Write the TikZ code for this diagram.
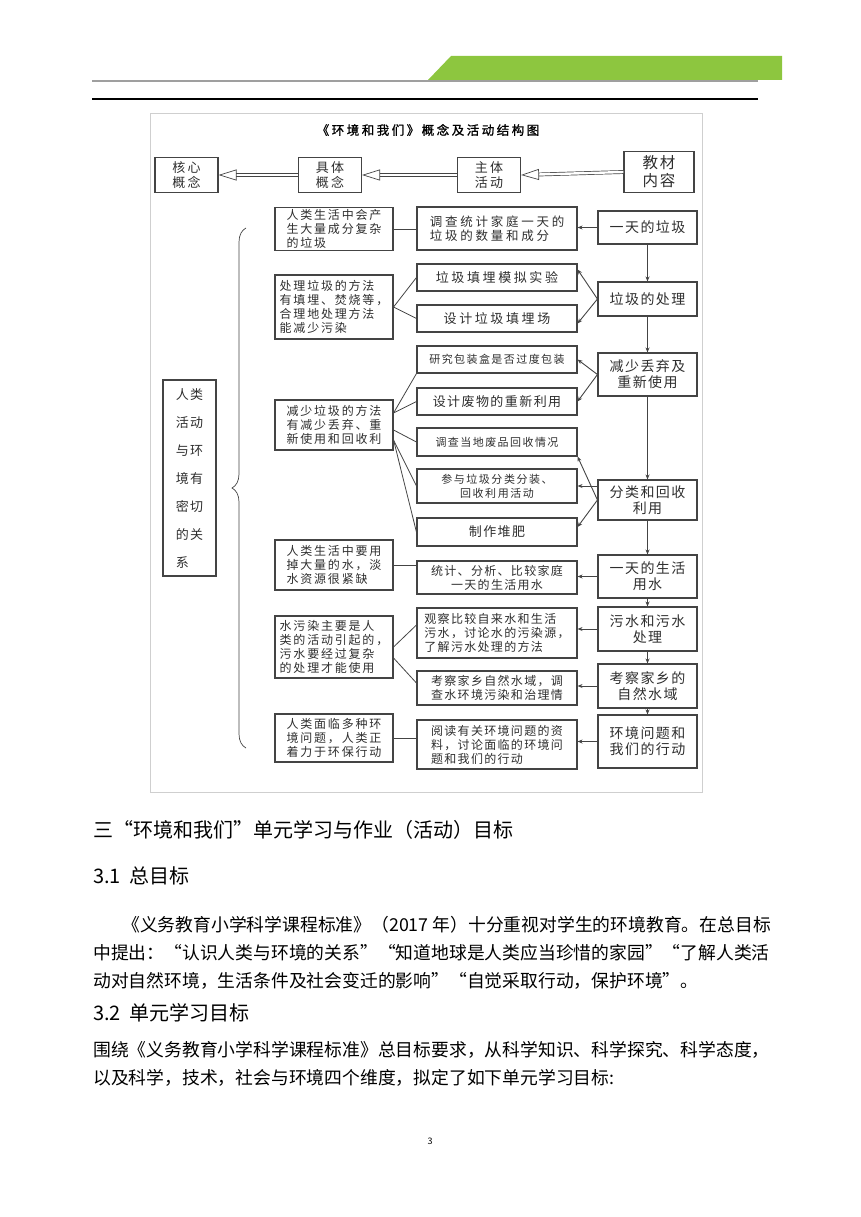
\documentclass[tikz,border=0pt]{standalone}
\usepackage{fontspec}
\setmainfont{Noto Sans CJK SC}
\newfontfamily\titelfont[FakeBold=1.2]{Noto Sans CJK SC}
\usetikzlibrary{arrows.meta,decorations.pathreplacing,calc}
\definecolor{gruen}{HTML}{8DC63F}
\definecolor{rahmen}{HTML}{CFCFCF}
\definecolor{strichgrau}{HTML}{444444}
\definecolor{schrift}{HTML}{2E2E2E}
\newcommand\zhset[3]{\fontsize{#1}{#2}\selectfont\addfontfeatures{LetterSpace=#3}}
\tikzset{
    %Define standard arrow tip
    >={Stealth[length=5pt,width=4pt]},
    %Define style for boxes
    kopf/.style={
           rectangle,
           draw=strichgrau, line width=1.1pt,
           minimum width=63pt,
           minimum height=35pt,
           inner sep=1pt,
           align=center,
           text=schrift,
           font=\zhset{13}{15}{18}},
    begrep/.style={
           rectangle,
           draw=strichgrau, line width=1.1pt,
           minimum width=118pt,
           inner sep=2pt,
           align=left,
           text=schrift,
           font=\zhset{12}{14}{15}},
    aktiv/.style={
           rectangle,
           draw=strichgrau, line width=1.1pt,
           minimum width=160pt,
           inner sep=2pt,
           align=left,
           text=schrift,
           font=\zhset{12}{14}{11}},
    innhold/.style={
           rectangle,
           draw=strichgrau, line width=1.1pt,
           minimum width=99pt,
           inner sep=2pt,
           align=center,
           text=schrift,
           font=\zhset{14}{16}{10}},
    % Define line styles
    strek/.style={draw=strichgrau, line width=0.8pt},
    pil/.style={->, draw=strichgrau, line width=0.9pt},
    dobbelpil/.style={
           draw=strichgrau,
           line width=0.7pt,
           double=white,
           double distance=2.4pt,
           -{Triangle[open,length=18pt,width=11pt]}},
    brodtekst/.style={anchor=west, inner sep=0pt, text=black, font=\zhset{17.8}{22}{0}},
    overskrift/.style={anchor=west, inner sep=0pt, text=black, font=\zhset{20}{24}{0}}
}
\begin{document}
\begin{tikzpicture}[x=1pt, y=-1pt]
\useasboundingbox (0,0) rectangle (860,1217);
% page header
\fill[gruen] (428,80) -- (451,56) -- (782,56) -- (782,80) -- cycle;
\draw[gray!75, line width=1.3pt] (92,81) -- (758,81);
\draw[black, line width=1.1pt] (92,99) -- (758,99);
% frame of the figure
\draw[rahmen, line width=1pt] (150,114) rectangle (702,792);
\node[text=black, font={\titelfont\fontsize{12.5}{14}\selectfont\addfontfeatures{LetterSpace=20}}] (titel) at (428,130) {《环境和我们》概念及活动结构图};
% header row
\node[kopf] (kern) at (186.5,175) {核心\\概念};
\node[kopf] (konkret) at (330,175) {具体\\概念};
\node[kopf] (haupt) at (489,175) {主体\\活动};
\node[kopf, minimum width=70pt, minimum height=41pt, font=\zhset{15.5}{18}{12}] (stoff) at (659,172) {教材\\内容};
\draw[dobbelpil] (stoff.west) -- (haupt.east);
\draw[dobbelpil] (haupt.west) -- (konkret.east);
\draw[dobbelpil] (konkret.west) -- (kern.east);
% core concept and brace
\node[draw=strichgrau, line width=1.1pt, minimum width=53pt, minimum height=196pt, align=left, text=schrift, font=\zhset{13}{28}{8}] (kernbegrep) at (189.5,478) {人类\\活动\\与环\\境有\\密切\\的关\\系};
\coordinate (klamme-o) at (246,228);
\coordinate (klamme-u) at (246,748);
\draw[strichgrau, line width=0.7pt, decorate, decoration={brace, amplitude=14pt}] (klamme-u) -- (klamme-o);
% concepts
\node[begrep, minimum height=42pt] (c1) at (334,229) {人类生活中会产\\生大量成分复杂\\的垃圾};
\node[begrep, minimum height=64pt] (c2) at (334,307) {处理垃圾的方法\\有填埋、焚烧等，\\合理地处理方法\\能减少污染};
\node[begrep, minimum height=50pt] (c3) at (334,425) {减少垃圾的方法\\有减少丢弃、重\\新使用和回收利};
\node[begrep, minimum height=50pt] (c4) at (334,565) {人类生活中要用\\掉大量的水，淡\\水资源很紧缺};
\node[begrep, minimum height=62pt] (c5) at (334,647) {水污染主要是人\\类的活动引起的，\\污水要经过复杂\\的处理才能使用};
\node[begrep, minimum height=48pt] (c6) at (334,738) {人类面临多种环\\境问题，人类正\\着力于环保行动};
% activities
\node[aktiv, minimum height=43pt, font=\zhset{12.5}{14.5}{22}] (a1) at (497,228.5) {调查统计家庭一天的\\垃圾的数量和成分};
\node[aktiv, minimum height=27pt, align=center, font=\zhset{13}{15}{20}] (a2) at (497,277.5) {垃圾填埋模拟实验};
\node[aktiv, minimum height=27pt, align=center, font=\zhset{13}{15}{20}] (a3) at (497,318.5) {设计垃圾填埋场};
\node[aktiv, minimum height=27pt, align=center, font=\zhset{11}{13}{13}] (a4) at (497,359.5) {研究包装盒是否过度包装};
\node[aktiv, minimum height=27pt, align=center, font=\zhset{13}{15}{11}] (a5) at (497,401.5) {设计废物的重新利用};
\node[aktiv, minimum height=28pt, align=center, font=\zhset{11}{13}{13}] (a6) at (497,442) {调查当地废品回收情况};
\node[aktiv, minimum height=34pt, align=center, font=\zhset{11}{14}{14}] (a7) at (497,486) {参与垃圾分类分装、\\回收利用活动};
\node[aktiv, minimum height=28pt, align=center, font=\zhset{13}{15}{11}] (a8) at (497,532) {制作堆肥};
\node[aktiv, minimum height=33pt, align=center] (a9) at (497,577.5) {统计、分析、比较家庭\\一天的生活用水};
\node[aktiv, minimum height=50pt] (a10) at (497,633) {观察比较自来水和生活\\污水，讨论水的污染源，\\了解污水处理的方法};
\node[aktiv, minimum height=34pt] (a11) at (497,688) {考察家乡自然水域，调\\查水环境污染和治理情};
\node[aktiv, minimum height=49pt] (a12) at (497,744.5) {阅读有关环境问题的资\\料，讨论面临的环境问\\题和我们的行动};
% contents of the textbook
\node[innhold, minimum height=33pt] (r1) at (647.5,227.5) {一天的垃圾};
\node[innhold, minimum height=34pt] (r2) at (647.5,299) {垃圾的处理};
\node[innhold, minimum height=43pt] (r3) at (647.5,374.5) {减少丢弃及\\重新使用};
\node[innhold, minimum height=40pt] (r4) at (647.5,500) {分类和回收\\利用};
\node[innhold, minimum height=43pt] (r5) at (647.5,576.5) {一天的生活\\用水};
\node[innhold, minimum height=44pt] (r6) at (647.5,629) {污水和污水\\处理};
\node[innhold, minimum height=44pt] (r7) at (647.5,686) {考察家乡的\\自然水域};
\node[innhold, minimum height=53pt] (r8) at (647.5,741.5) {环境问题和\\我们的行动};
% arrows down the right column
\foreach \i/\j in {r1/r2,r2/r3,r3/r4,r4/r5,r5/r6,r6/r7,r7/r8}
    \draw[pil] (\i.south) -- (\j.north);
% arrows from contents to activities
\draw[pil] (r1.west) -- (r1.west -| a1.east);
\draw[pil] (r2.west) -- ([yshift=8pt]a2.east);
\draw[pil] (r2.west) -- ([yshift=-5pt]a3.east);
\draw[pil] (r3.west) -- (a4.east);
\draw[pil] (r3.west) -- (a5.east);
\draw[pil] (r4.west) -- (a6.south east);
\draw[pil] (a7.east -| r4.west) -- (a7.east);
\draw[pil] (r4.west) -- ([yshift=5pt]a8.east);
\draw[pil] (r5.west) -- (r5.west -| a9.east);
\draw[pil] (r6.west) -- (r6.west -| a10.east);
\draw[pil] (r7.west) -- (r7.west -| a11.east);
\draw[pil] (r8.west) -- (r8.west -| a12.east);
% lines from concepts to activities
\draw[strek] (c1.east) -- (c1.east -| a1.west);
\draw[strek] (c2.east) -- (a2.west);
\draw[strek] (c2.east) -- (a3.west);
\draw[strek] ([yshift=12pt]c3.east) -- (a4.south west);
\draw[strek] ([yshift=12pt]c3.east) -- (a5.west);
\draw[strek] ([yshift=-5pt]c3.east) -- (a6.west);
\draw[strek] ([yshift=-15pt]c3.east) -- (a7.west);
\draw[strek] ([yshift=-15pt]c3.east) -- (a8.west);
\draw[strek] (c4.east) -- (c4.east -| a9.west);
\draw[strek] (c5.east) -- ([yshift=8pt]a10.west);
\draw[strek] ([yshift=-11pt]c5.east) -- ([yshift=5pt]a11.west);
\draw[strek] (c6.east) -- (c6.east -| a12.west);
% text of the page
\node[overskrift] (kap3) at (93,830) {三“环境和我们”单元学习与作业（活动）目标};
\node[overskrift] (kap31) at (93,876) {3.1\ \ 总目标};
\node[brodtekst] (z1) at (122,925) {《义务教育小学科学课程标准》（2017 年）十分重视对学生的环境教育。在总目标};
\node[brodtekst] (z2) at (93,953) {中提出：“认识人类与环境的关系”“知道地球是人类应当珍惜的家园”“了解人类活};
\node[brodtekst] (z3) at (93,981) {动对自然环境，生活条件及社会变迁的影响”“自觉采取行动，保护环境”。};
\node[overskrift] (kap32) at (93,1013) {3.2\ \ 单元学习目标};
\node[brodtekst] (z4) at (93,1050) {围绕《义务教育小学科学课程标准》总目标要求，从科学知识、科学探究、科学态度，};
\node[brodtekst] (z5) at (93,1078) {以及科学，技术，社会与环境四个维度，拟定了如下单元学习目标:};
\node[font=\fontsize{9}{10}\selectfont] (seite) at (430,1141) {3};
\end{tikzpicture}
\end{document}
